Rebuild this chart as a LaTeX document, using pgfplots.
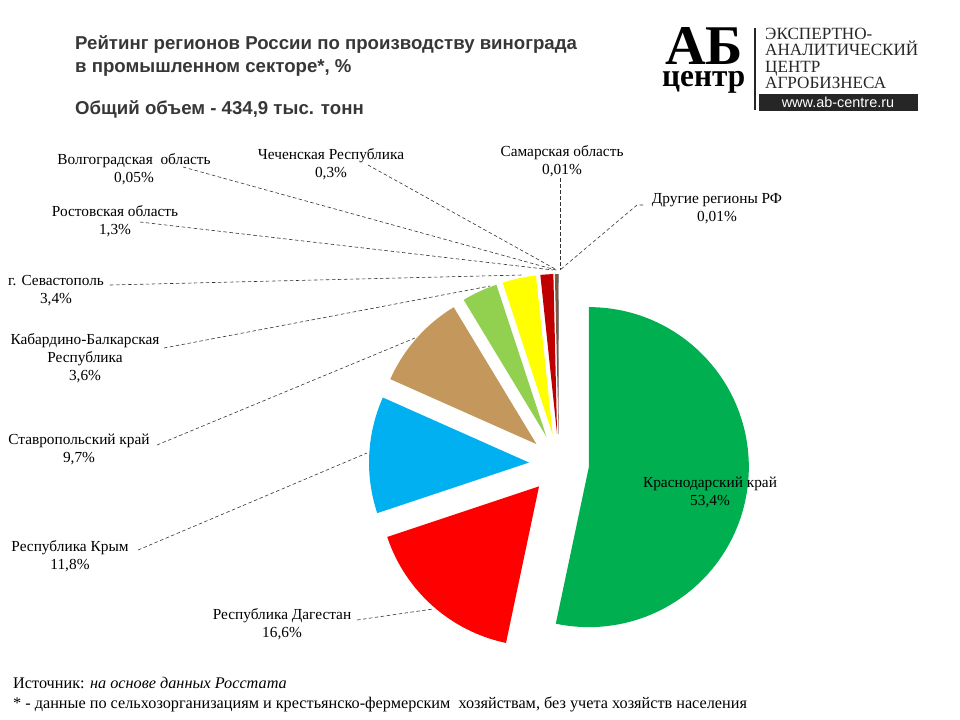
\documentclass[border=0pt]{standalone}
\usepackage{fontspec}
\setmainfont{Liberation Serif}
\newfontfamily\arial{Liberation Sans}
\usepackage{pgfplots}
\usepackage{pgfplotstable}
\pgfplotsset{compat=1.18}

\definecolor{krasnodar}{RGB}{0,176,80}
\definecolor{dagestan}{RGB}{255,0,0}
\definecolor{krym}{RGB}{0,176,240}
\definecolor{stavropol}{RGB}{196,152,92}
\definecolor{kbr}{RGB}{146,208,80}
\definecolor{sevastopol}{RGB}{255,255,0}
\definecolor{rostov}{RGB}{192,0,0}
\definecolor{chechnya}{RGB}{130,85,60}
\definecolor{volgograd}{RGB}{90,90,90}
\definecolor{samara}{RGB}{150,150,150}
\definecolor{other}{RGB}{60,60,60}
\definecolor{titlegray}{RGB}{55,55,55}

% share of regions, %, clockwise from 12 o'clock
\pgfplotstableread[col sep=comma]{
value,color
53.4,krasnodar
16.6,dagestan
11.8,krym
9.7,stavropol
3.6,kbr
3.4,sevastopol
1.3,rostov
0.3,chechnya
0.05,volgograd
0.01,samara
0.01,other
}\piedata

% pie geometry (pixels of the 960x720 picture)
\def\cx{559}\def\cy{464}\def\explode{30}\def\rad{160}

\pgfplotstablegetrowsof{\piedata}
\pgfmathtruncatemacro\lastrow{\pgfplotsretval-1}
\def\pietotal{0}
\pgfplotsforeachungrouped \i in {0,...,\lastrow}{%
  \pgfplotstablegetelem{\i}{value}\of\piedata
  \pgfmathsetmacro\pietotal{\pietotal+\pgfplotsretval}}
\def\pieslices{}
\def\piecum{0}
\pgfplotsforeachungrouped \i in {0,...,\lastrow}{%
  \pgfplotstablegetelem{\i}{value}\of\piedata \let\v\pgfplotsretval
  \pgfplotstablegetelem{\i}{color}\of\piedata \let\c\pgfplotsretval
  \pgfmathsetmacro\sa{90-\piecum/\pietotal*360}
  \pgfmathsetmacro\piecum{\piecum+\v}
  \pgfmathsetmacro\ea{90-\piecum/\pietotal*360}
  \pgfmathsetmacro\ma{(\sa+\ea)/2}
  \pgfmathsetmacro\ax{\cx+\explode*cos(\ma)}
  \pgfmathsetmacro\ay{\cy-\explode*sin(\ma)}
  \xdef\pieslices{\unexpanded\expandafter{\pieslices}%
    \noexpand\fill[\c] (axis cs:\ax,\ay) -- ++(\sa:\rad bp)
    arc[start angle=\sa, end angle=\ea, radius=\rad bp] -- cycle;}}

\begin{document}
\begin{tikzpicture}[
  lbl/.style={align=center, inner sep=0pt, font=\fontsize{15.4}{18}\selectfont},
  lead/.style={dash pattern=on 3.5bp off 2.5bp, line width=0.6bp, black!80},
  logo/.style={anchor=base west, font=\fontsize{17.2}{17}\selectfont, text=black!85},
  every node/.append style={inner sep=0pt},
]
\useasboundingbox (0,0) rectangle (960bp,720bp);
\begin{axis}[
  at={(0,0)}, anchor=south west,
  x=1bp, y=1bp, y dir=reverse,
  xmin=0, xmax=960, ymin=0, ymax=720,
  hide axis, clip=false,
]
\pieslices

% leader lines
\draw[lead] (axis cs:183,167) -- (axis cs:556,270);
\draw[lead] (axis cs:368,165) -- (axis cs:557,270);
\draw[lead] (axis cs:560,178) -- (axis cs:560,270);
\draw[lead] (axis cs:643,205) -- (axis cs:637,205) -- (axis cs:560,270);
\draw[lead] (axis cs:140,222) -- (axis cs:553,270);
\draw[lead] (axis cs:110,285) -- (axis cs:522,275);
\draw[lead] (axis cs:164,348) -- (axis cs:490,286);
\draw[lead] (axis cs:157,445) -- (axis cs:415,338);
\draw[lead] (axis cs:138,550) -- (axis cs:367,453);
\draw[lead] (axis cs:357,620) -- (axis cs:433,609);

% slice labels
\node[lbl] at (axis cs:134,169) {Волгоградская\ \ область\\0,05\%};
\node[lbl] at (axis cs:331,164) {Чеченская Республика\\0,3\%};
\node[lbl] at (axis cs:562,161) {Самарская область\\0,01\%};
\node[lbl] at (axis cs:717,209) {Другие регионы РФ\\0,01\%};
\node[lbl] at (axis cs:115,221) {Ростовская область\\1,3\%};
\node[lbl] at (axis cs:56,291) {г. Севастополь\\3,4\%};
\node[lbl] at (axis cs:85,358) {Кабардино-Балкарская\\Республика\\3,6\%};
\node[lbl] at (axis cs:79,449) {Ставропольский край\\9,7\%};
\node[lbl] at (axis cs:70,556) {Республика Крым\\11,8\%};
\node[lbl] at (axis cs:282,624) {Республика Дагестан\\16,6\%};
\node[lbl] at (axis cs:710,492) {Краснодарский край\\53,4\%};

% title
\node[anchor=base west, font=\arial\bfseries\fontsize{18.7}{23}\selectfont, text=titlegray]
  at (axis cs:75,49) {Рейтинг регионов России по производству винограда};
\node[anchor=base west, font=\arial\bfseries\fontsize{18.7}{23}\selectfont, text=titlegray]
  at (axis cs:75,72) {в промышленном секторе*, \%};
\node[anchor=base west, font=\arial\bfseries\fontsize{18.7}{23}\selectfont, text=titlegray]
  at (axis cs:75,114) {Общий объем - 434,9 тыс. тонн};

% logo
\node[anchor=south west] at (axis cs:665,65) {\resizebox{78bp}{37bp}{\bfseries АБ}};
\node[anchor=north west] at (axis cs:662,71) {\resizebox*{83bp}{22bp}{\bfseries центр}};
\draw[line width=1.3bp, black!85] (axis cs:755,28) -- (axis cs:755,110);
\node[logo] at (axis cs:765,39) {ЭКСПЕРТНО-};
\node[logo] at (axis cs:765,55) {АНАЛИТИЧЕСКИЙ};
\node[logo] at (axis cs:765,72) {ЦЕНТР};
\node[logo] at (axis cs:765,88) {АГРОБИЗНЕСА};
\fill[black!85] (axis cs:759,94) rectangle (axis cs:918,111);
\node[font=\arial\fontsize{14.5}{14}\selectfont, text=white] at (axis cs:838,102.5) {www.ab-centre.ru};

% footer
\node[anchor=base west, font=\fontsize{16.3}{16}\selectfont] at (axis cs:13,688)
  {Источник: \textit{на основе данных Росстата}};
\node[anchor=base west, font=\fontsize{16.3}{16}\selectfont] at (axis cs:13,708)
  {* - данные по сельхозорганизациям и крестьянско-фермерским\ \ хозяйствам,\ без учета хозяйств\ населения};
\end{axis}
\end{tikzpicture}
\end{document}
